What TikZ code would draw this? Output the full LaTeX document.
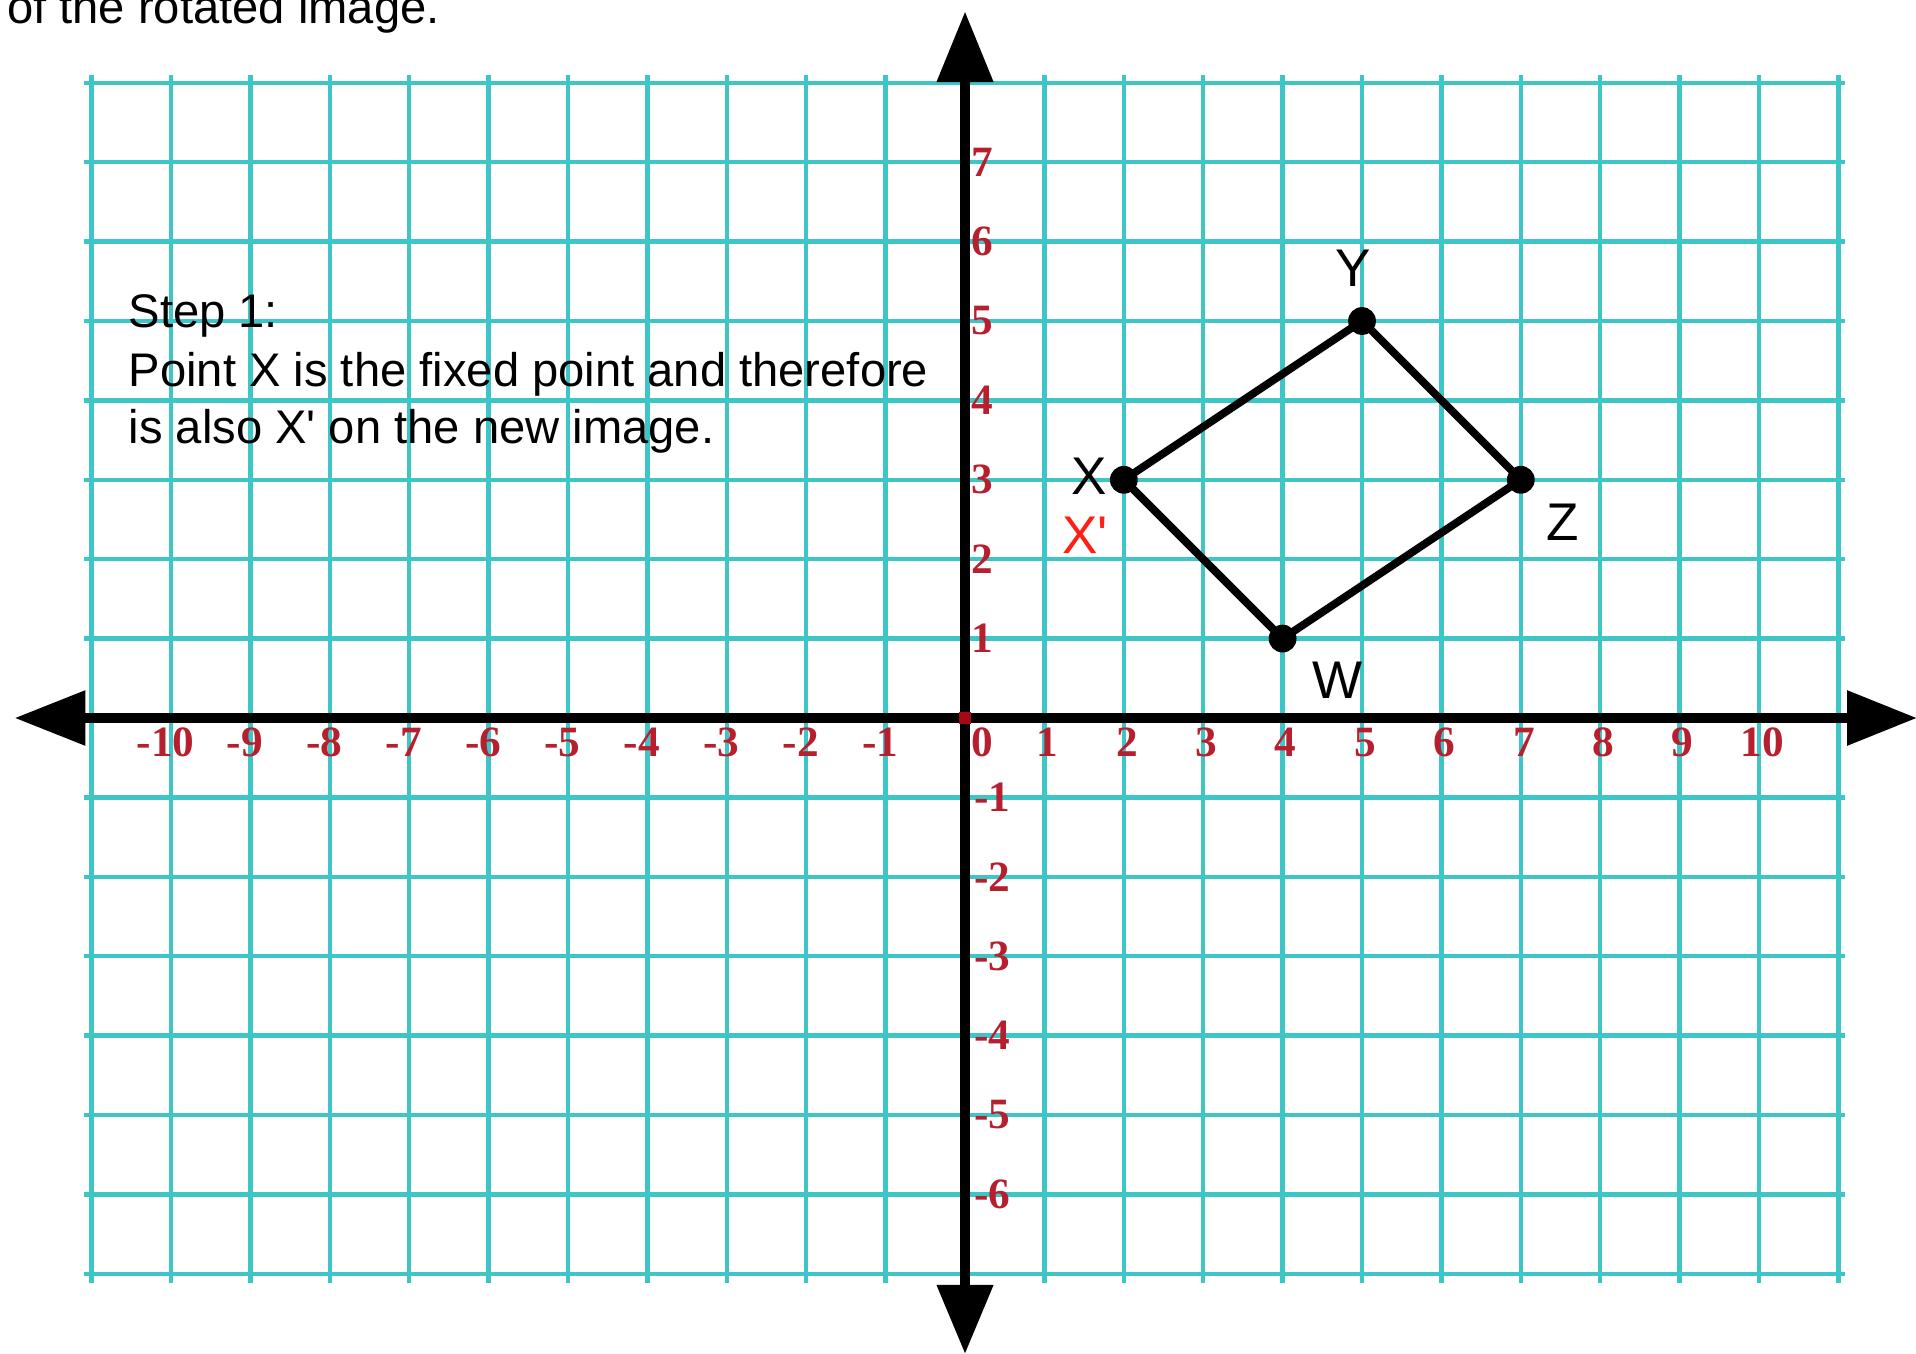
\documentclass[tikz,border=0pt]{standalone}
\usepackage{fontspec}
\setmainfont{Liberation Sans}[Ligatures=TeXOff]
\newfontfamily\tickfont{Liberation Serif}
\definecolor{gridc}{RGB}{62,198,198}
\definecolor{tickc}{RGB}{182,32,46}
\definecolor{origc}{RGB}{165,10,20}
\definecolor{xprime}{RGB}{255,32,20}
\begin{document}
\begin{tikzpicture}[x=1cm,y=1cm,
  gridline/.style={draw=gridc, line width=1.6pt},
  axisline/.style={draw=black, line width=3.6pt},
  arrowhead/.style={fill=black},
  vertex/.style={circle, fill=black, inner sep=0pt, minimum size=0.35cm},
  edgeline/.style={line width=2.8pt, line join=round},
  ptlabel/.style={font=\fontsize{19}{22}\selectfont, inner sep=0pt},
  para/.style={font=\fontsize{16.9}{20}\selectfont, anchor=base west, inner sep=0pt},
  ticklabel/.style={font=\tickfont\bfseries\fontsize{15.5}{18}\selectfont, text=tickc, inner sep=0pt}
]
\useasboundingbox (-12.154,-8.010) rectangle (11.977,9.043);
\clip (-12.154,-8.010) rectangle (11.977,9.043);

% grid
\foreach \i in {-11,...,11} \draw[gridline] (\i,-7.12) -- (\i,8.1);
\foreach \j in {-7,...,8} \draw[gridline] (-11.1,\j) -- (11.08,\j);

% axes
\coordinate (xl) at (-11.08,0);
\coordinate (xr) at (11.11,0);
\coordinate (yb) at (0,-7.14);
\coordinate (yt) at (0,8.01);
\draw[axisline] (xl) -- (xr);
\draw[axisline] (yb) -- (yt);
\fill[arrowhead] (11.11,0.35) -- (11.98,0) -- (11.11,-0.35) -- cycle;
\fill[arrowhead] (-11.08,0.35) -- (-11.96,0) -- (-11.08,-0.35) -- cycle;
\fill[arrowhead] (-0.36,8.01) -- (0,8.89) -- (0.36,8.01) -- cycle;
\fill[arrowhead] (-0.36,-7.14) -- (0,-8.0) -- (0.36,-7.14) -- cycle;
\fill[origc] (-0.078,-0.078) rectangle (0.078,0.078);

% tick labels
\node[ticklabel] (tx0) at (0.22,-0.31) {0};
\foreach \i in {1,...,10} \node[ticklabel] (tx\i) at ({\i+0.04},-0.31) {\i};
\foreach \i in {1,...,10} \node[ticklabel] (txm\i) at ({-\i-0.07},-0.31) {-\i};
\foreach \j in {1,...,7} \node[ticklabel] (ty\j) at (0.22,\j) {\j};
\foreach \j in {1,...,6} \node[ticklabel] (tym\j) at (0.34,-\j) {-\j};

% text
\node[para] (top) at (-12.07,8.753) {of the rotated image.};
\node[para] (s1) at (-10.54,4.924) {Step 1:};
\node[para] (s2) at (-10.54,4.181) {Point X is the fixed point and therefore};
\node[para] (s3) at (-10.54,3.451) {is also X' on the new image.};

% figure
\node[vertex] (X) at (2,3) {};
\node[vertex] (Y) at (5,5) {};
\node[vertex] (Z) at (7,3) {};
\node[vertex] (W) at (4,1) {};
\draw[edgeline] (X.center) -- (Y.center) -- (Z.center) -- (W.center) -- cycle;

\node[ptlabel] (lX) at (1.56,3.05) {X};
\node[ptlabel, text=xprime] (lXp) at (1.51,2.30) {X'};
\node[ptlabel] (lY) at (4.89,5.67) {Y};
\node[ptlabel] (lZ) at (7.53,2.46) {Z};
\node[ptlabel] (lW) at (4.69,0.48) {W};
\end{tikzpicture}
\end{document}
